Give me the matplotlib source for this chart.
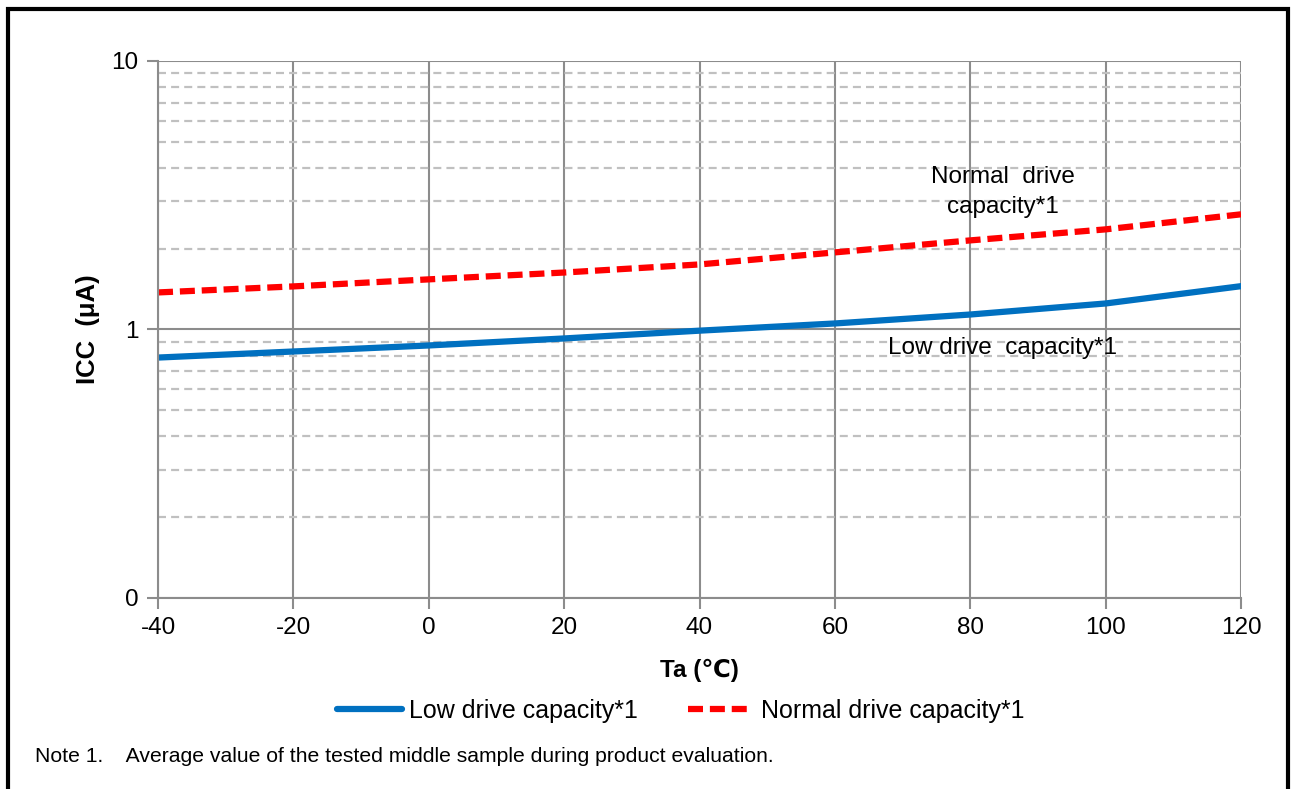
import matplotlib
matplotlib.use("Agg")
import matplotlib.pyplot as plt
import numpy as np
from matplotlib.ticker import FixedLocator, NullFormatter

plt.rcParams['font.family'] = ['Liberation Sans', 'DejaVu Sans']
plt.rcParams['axes.unicode_minus'] = False

# data
ta = [-40, -20, 0, 20, 40, 60, 80, 100, 120]
icc_low = [0.786, 0.828, 0.872, 0.926, 0.99, 1.053, 1.137, 1.25, 1.45]
icc_normal = [1.374, 1.447, 1.537, 1.63, 1.747, 1.937, 2.147, 2.36, 2.685]

x_ticks = [-40, -20, 0, 20, 40, 60, 80, 100, 120]
y_ticks = [0.1, 1, 10]
y_tick_labels = ['0', '1', '10']

grid_major = '#8c8c8c'
grid_minor = '#c0c0c0'

fig = plt.figure(figsize=(12.91, 7.89), dpi=100)
ax = fig.add_axes([0.1224, 0.2421, 0.8389, 0.6806])

ax.set_yscale('log')
ax.set_xlim(-40, 120)
ax.set_ylim(0.1, 10)

# grid
ax.yaxis.set_major_locator(FixedLocator(y_ticks))
ax.yaxis.set_minor_locator(FixedLocator(
    [m * d for d in (0.1, 1) for m in range(2, 10)]))
ax.yaxis.set_minor_formatter(NullFormatter())
ax.set_yticklabels(y_tick_labels)
ax.set_xticks(x_ticks)
ax.grid(which='major', axis='both', color=grid_major, lw=1.5, ls='-')
ax.grid(which='minor', axis='y', color=grid_minor, lw=1.6, ls=(0, (3.6, 2.3)))
ax.set_axisbelow(True)

for s in ['top', 'right']:
    ax.spines[s].set_visible(False)
for s in ['left', 'bottom']:
    ax.spines[s].set_color(grid_major)
    ax.spines[s].set_linewidth(1.5)

ax.tick_params(which='major', direction='out', length=8, width=1.5,
               color=grid_major, labelsize=17.5, pad=6)
ax.tick_params(which='minor', length=0)

ax.plot(ta, icc_low, color='#0070C0', lw=4.5, label='Low drive capacity*1',
        solid_capstyle='round')
ax.plot(ta, icc_normal, color='#FF0000', lw=4.5, ls=(0, (2.4, 1.1)),
        label='Normal drive capacity*1', dash_capstyle='butt')

ax.set_xlabel('Ta (\u2103)', fontsize=17.5, fontweight='bold', labelpad=14)
ax.set_ylabel('ICC  (\u03bcA)', fontsize=18.5, fontweight='bold', labelpad=8)

ax.text(84.8, 3.25, 'Normal  drive\ncapacity*1', fontsize=17.5, ha='center',
        va='center', linespacing=1.45)
ax.text(84.8, 0.855, 'Low drive  capacity*1', fontsize=17.5, ha='center',
        va='center')

leg = fig.legend(loc='center', bbox_to_anchor=(0.527, 0.099), ncol=2,
                 frameon=False, fontsize=18, handlelength=2.6,
                 handletextpad=0.3, columnspacing=2.0)

fig.text(35 / 1291, 1 - 757 / 789, 'Note 1.    Average value of the tested middle sample during product evaluation.',
         fontsize=15.2, va='center', ha='left')

# outer frame
frame = plt.Rectangle((8 / 1291, -0.05), 1280 / 1291, 1.05 - 9 / 789,
                      transform=fig.transFigure, fill=False, lw=3,
                      edgecolor='black')
fig.add_artist(frame)

fig.savefig('out.png', dpi=100)
